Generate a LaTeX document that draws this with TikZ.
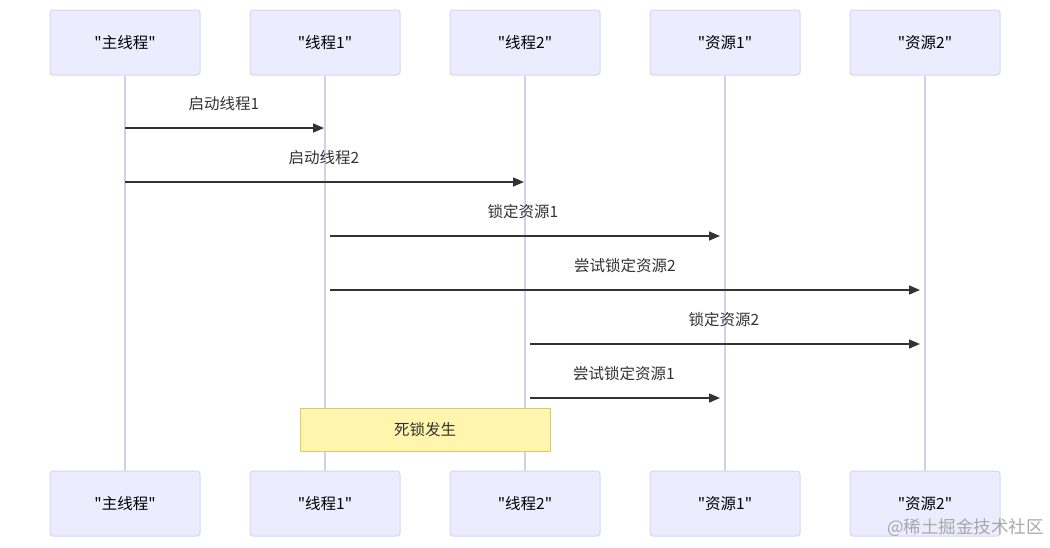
\documentclass[tikz,border=0pt]{standalone}
\usepackage{fontspec}
\setmainfont{Noto Sans CJK SC}[Ligatures=TeXOff]
\usetikzlibrary{arrows.meta}
\definecolor{actfill}{HTML}{ECECFF}
\definecolor{actline}{HTML}{D9D3F2}
\definecolor{lifeline}{HTML}{D5CFEE}
\definecolor{msgcol}{HTML}{333333}
\definecolor{notefill}{HTML}{FFF5AD}
\definecolor{noteline}{HTML}{D6CC6E}
\definecolor{wmcol}{HTML}{A8A8A8}
\newcommand{\qq}[1]{"#1"}
\tikzset{
  actor/.style={draw=actline, fill=actfill, line width=1pt, rounded corners=3pt,
    minimum width=150pt, minimum height=65pt, inner sep=0pt,
    font=\fontsize{15.5}{18}\selectfont, text=black},
  life/.style={draw=lifeline, line width=1.5pt},
  msg/.style={draw=msgcol, line width=1.5pt, -{Triangle[length=11pt,width=9pt]}},
  msglabel/.style={font=\fontsize{15.5}{18}\selectfont, text=msgcol, inner sep=0pt},
  notebox/.style={draw=noteline, fill=notefill, line width=1pt,
    minimum width=250pt, minimum height=43pt, inner sep=0pt,
    font=\fontsize{15.5}{18}\selectfont, text=msgcol}
}
\begin{document}
\begin{tikzpicture}[x=1pt,y=-1pt]
\useasboundingbox[fill=white] (0,0) rectangle (1050,547);
% top actors
\node[actor] (t1) at (125,42.5) {\qq{主线程}};
\node[actor] (t2) at (325,42.5) {\qq{线程1}};
\node[actor] (t3) at (525,42.5) {\qq{线程2}};
\node[actor] (t4) at (725,42.5) {\qq{资源1}};
\node[actor] (t5) at (925,42.5) {\qq{资源2}};
% bottom actors
\node[actor] (b1) at (125,503.5) {\qq{主线程}};
\node[actor] (b2) at (325,503.5) {\qq{线程1}};
\node[actor] (b3) at (525,503.5) {\qq{线程2}};
\node[actor] (b4) at (725,503.5) {\qq{资源1}};
\node[actor] (b5) at (925,503.5) {\qq{资源2}};
% lifelines
\foreach \i in {1,...,5}{\draw[life] (t\i.south) -- (b\i.north);}
% message endpoints
\coordinate (m1s) at (125,128); \coordinate (m1e) at (324,128);
\coordinate (m2s) at (125,182); \coordinate (m2e) at (524,182);
\coordinate (m3s) at (330,236); \coordinate (m3e) at (720,236);
\coordinate (m4s) at (330,290); \coordinate (m4e) at (920,290);
\coordinate (m5s) at (530,344); \coordinate (m5e) at (920,344);
\coordinate (m6s) at (530,398); \coordinate (m6e) at (720,398);
\draw[msg] (m1s) -- (m1e);
\draw[msg] (m2s) -- (m2e);
\draw[msg] (m3s) -- (m3e);
\draw[msg] (m4s) -- (m4e);
\draw[msg] (m5s) -- (m5e);
\draw[msg] (m6s) -- (m6e);
\node[msglabel] (l1) at (224,104) {启动线程1};
\node[msglabel] (l2) at (324,158) {启动线程2};
\node[msglabel] (l3) at (523,212) {锁定资源1};
\node[msglabel] (l4) at (625,266) {尝试锁定资源2};
\node[msglabel] (l5) at (724,320) {锁定资源2};
\node[msglabel] (l6) at (624,374) {尝试锁定资源1};
% note
\node[notebox] (note) at (425,429.5) {死锁发生};
% watermark
\node[font=\fontsize{17.5}{20}\selectfont, text=wmcol, anchor=east, inner sep=0pt] (wm) at (1044,528) {@稀土掘金技术社区};
\end{tikzpicture}
\end{document}
